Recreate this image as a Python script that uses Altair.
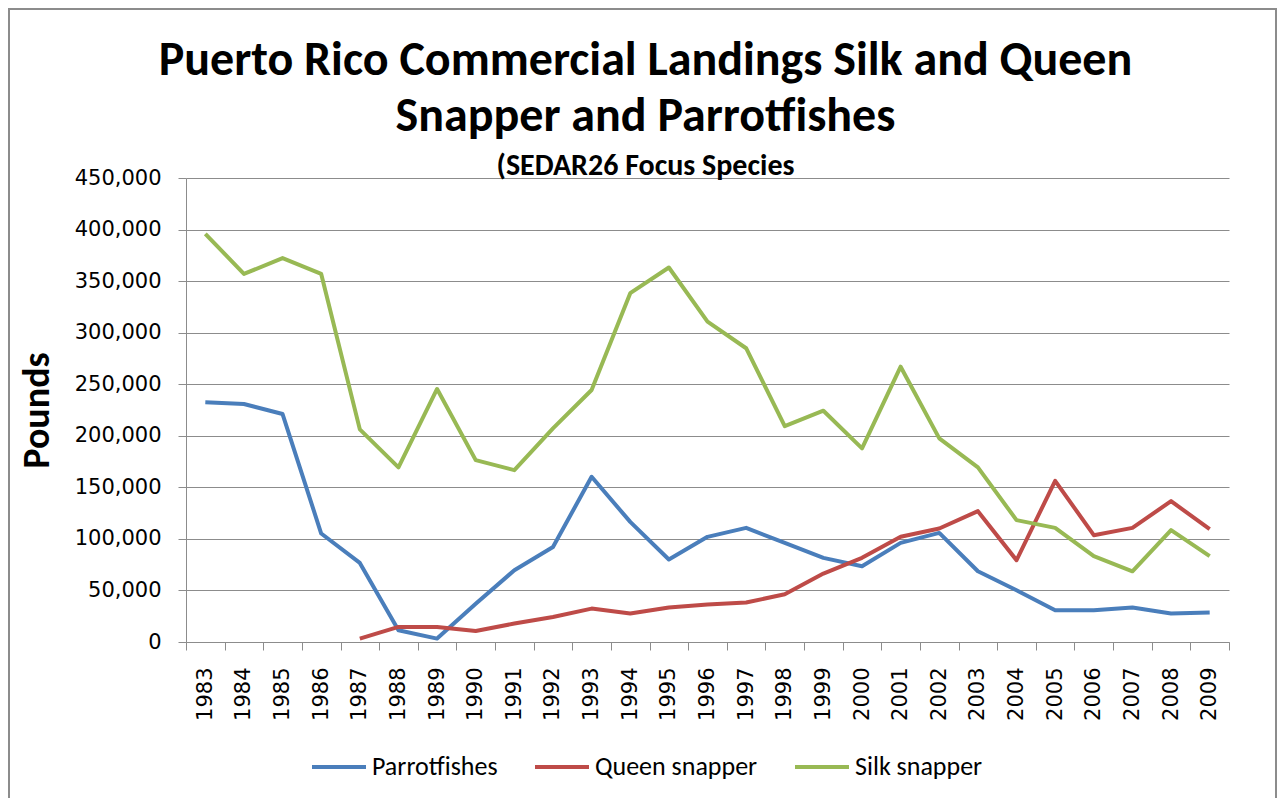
import altair as alt
import pandas as pd

years = [str(y) for y in range(1983, 2010)]

parrotfishes = [232400, 230800, 221100, 105200, 76700, 11400, 3300, 37000, 69600,
                92200, 160200, 116500, 80000, 102000, 110700, 96100, 81600, 73500,
                96100, 105800, 68600, 50200, 30800, 30800, 33400, 27600, 28500]
queen_snapper = [None, None, None, None, 3300, 14600, 14600, 10700, 17900,
                 24300, 32400, 27600, 33400, 36300, 38300, 46300, 66400, 81600,
                 102000, 110100, 126900, 79300, 156300, 103600, 110700, 136600, 109400]
silk_snapper = [395900, 357000, 372300, 357000, 206200, 169300, 245400, 176400, 166700,
                207200, 244400, 338300, 363200, 310700, 284900, 209400, 224300, 187800,
                267000, 197500, 169300, 118200, 110700, 83200, 68600, 108500, 83200]

series_names = ["Parrotfishes", "Queen snapper", "Silk snapper"]
series_colors = ["#4A7EBB", "#BE4B48", "#98B954"]

rows = []
for name, vals in zip(series_names, [parrotfishes, queen_snapper, silk_snapper]):
    for yr, v in zip(years, vals):
        if v is not None:
            rows.append({"Year": yr, "Pounds": v, "Series": name})
df = pd.DataFrame(rows)

CAL = "Carlito, Calibri, Lato, sans-serif"
TICK = "Verdana, DejaVu Sans, sans-serif"
GRID = "#8C8C8C"

lines = alt.Chart(df).mark_line(strokeWidth=4, strokeJoin="round").encode(
    x=alt.X("Year:O", sort=years, bandPosition=0.5,
            scale=alt.Scale(type="band", domain=years, paddingInner=0, paddingOuter=0),
            axis=alt.Axis(title=None, labelAngle=270, tickBand="extent", grid=False,
                          labelFontSize=21, labelFont=TICK, labelColor="#000000",
                          labelPadding=17, tickSize=8, tickColor=GRID,
                          domainColor=GRID, domainWidth=1)),
    y=alt.Y("Pounds:Q", scale=alt.Scale(domain=[0, 450000], nice=False, zero=True),
            axis=alt.Axis(title="Pounds", values=list(range(0, 450001, 50000)), format=",.0f",
                          labelFontSize=21, labelFont=TICK, labelColor="#000000",
                          labelPadding=17, tickSize=8, tickColor=GRID,
                          domainColor=GRID, gridColor=GRID, gridWidth=1,
                          titleFont=CAL, titleFontSize=38, titleFontWeight="bold",
                          titleColor="#000000", titlePadding=18)),
    color=alt.Color("Series:N",
                    scale=alt.Scale(domain=series_names, range=series_colors),
                    legend=alt.Legend(title=None, orient="none", direction="horizontal",
                                      legendX=124, legendY=560,
                                      symbolType="stroke", symbolStrokeWidth=4, symbolSize=2916,
                                      labelFontSize=26, labelFont=CAL, labelColor="#000000",
                                      labelLimit=0, columnPadding=29, labelOffset=4)),
)

frame = alt.Chart(pd.DataFrame({"f": [0]})).mark_rect(
    fill="transparent", stroke="#8C8C8C", strokeWidth=2, clip=False
).encode(x=alt.value(-177), x2=alt.value(1090), y=alt.value(-169), y2=alt.value(660))

chart = alt.layer(frame, lines).properties(
    width=1043,
    height=464,
    title=alt.TitleParams(
        text=["Puerto Rico Commercial Landings Silk and Queen", "Snapper and Parrotfishes"],
        subtitle="(SEDAR26 Focus Species",
        font=CAL, fontSize=48, fontWeight="bold", color="#000000", lineHeight=56,
        subtitleFont=CAL, subtitleFontSize=30, subtitleFontWeight="bold",
        subtitleColor="#000000", subtitlePadding=10,
        anchor="middle", frame="group", offset=-173, dx=-62),
    autosize=alt.AutoSizeParams(type="none"),
    padding={"left": 178, "top": 170, "right": 49, "bottom": 156},
).configure_view(stroke=None)

chart.save("out.html", embed_options={"renderer": "svg", "actions": False})
